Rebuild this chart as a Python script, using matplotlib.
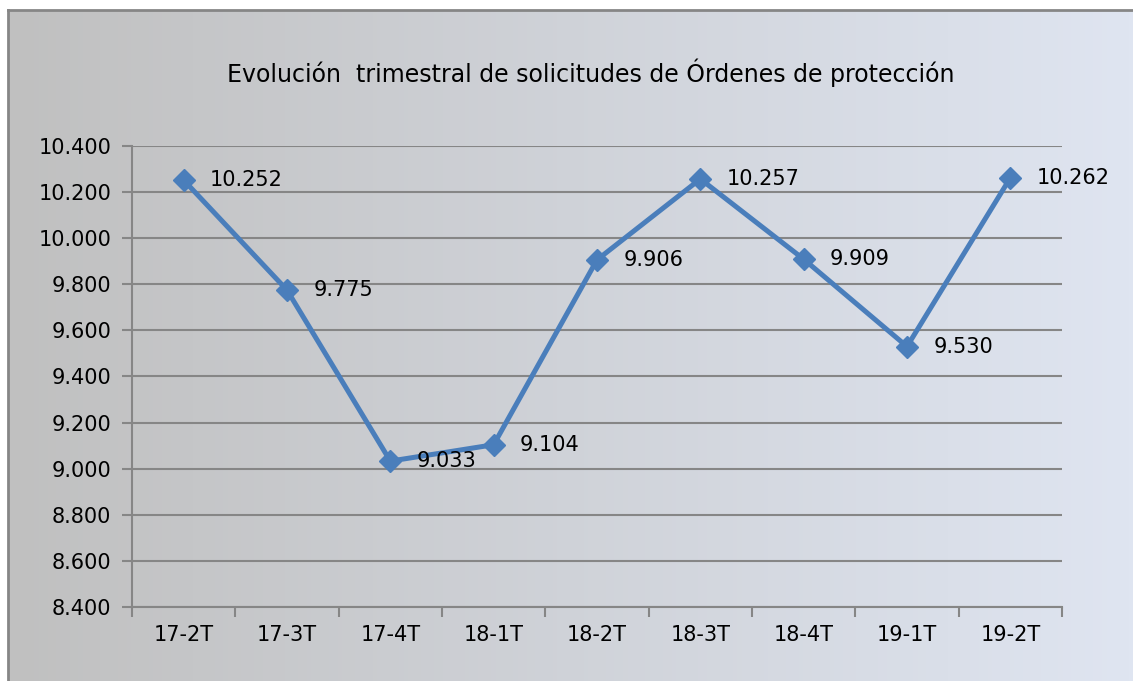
import numpy as np
import matplotlib.pyplot as plt
from matplotlib.ticker import FuncFormatter, FixedLocator

# datos
trimestres = ['17-2T', '17-3T', '17-4T', '18-1T', '18-2T', '18-3T', '18-4T', '19-1T', '19-2T']
solicitudes = [10252, 9775, 9033, 9104, 9906, 10257, 9909, 9530, 10262]

def miles(v):
    return f"{int(round(v)):,}".replace(",", ".")

plt.rcParams['font.family'] = ['DejaVu Sans']

fig = plt.figure(figsize=(11.33, 6.81), dpi=100)

# fondo degradado gris -> azul claro
bg = fig.add_axes([8 / 1133, 0, 1 - 8 / 1133, 1 - 10 / 681], zorder=0)
izq = np.array([192, 192, 192]) / 255
der = np.array([223, 229, 241]) / 255
t = np.linspace(0, 1, 256)[None, :, None]
grad = izq + (der - izq) * t
bg.imshow(grad, aspect='auto', extent=[0, 1, 0, 1])
bg.set_xticks([])
bg.set_yticks([])
for s in ['right', 'bottom']:
    bg.spines[s].set_visible(False)
for s in ['left', 'top']:
    bg.spines[s].set_color('#868686')
    bg.spines[s].set_linewidth(2)

ax = fig.add_axes([132 / 1133, 1 - 607 / 681, 930 / 1133, 461 / 681], zorder=1)
ax.patch.set_alpha(0)

x = np.arange(len(trimestres))
ax.plot(x, solicitudes, color='#4A7EBB', linewidth=3.6, marker='D', markersize=11,
        markerfacecolor='#4A7EBB', markeredgecolor='#4A7EBB', zorder=3)

for xi, v in zip(x, solicitudes):
    ax.annotate(miles(v), (xi, v), xytext=(19, 0), textcoords='offset points',
                ha='left', va='center', fontsize=15, color='black', zorder=4)

ax.set_xlim(-0.5, len(trimestres) - 0.5)
ax.set_ylim(8400, 10400)
ax.set_yticks(np.arange(8400, 10401, 200))
ax.yaxis.set_major_formatter(FuncFormatter(lambda v, p: miles(v)))
ax.yaxis.grid(True, color='#868686', linewidth=1.5)
ax.set_axisbelow(True)

ax.set_xticks(x)
ax.set_xticklabels(trimestres)
ax.xaxis.set_minor_locator(FixedLocator(np.arange(-0.5, len(trimestres), 1)))
ax.tick_params(axis='x', which='major', length=0, pad=13, labelsize=15)
ax.tick_params(axis='x', which='minor', length=7, width=1.5, color='#868686')
ax.tick_params(axis='y', length=7, width=1.5, color='#868686', labelsize=15, pad=8)

for s in ['top', 'right']:
    ax.spines[s].set_visible(False)
for s in ['left', 'bottom']:
    ax.spines[s].set_color('#868686')
    ax.spines[s].set_linewidth(1.5)

fig.text(591 / 1133, 1 - 73 / 681, 'Evolución  trimestral de solicitudes de Órdenes de protección',
         ha='center', va='center', fontsize=17)

fig.savefig('out.png', dpi=100)
